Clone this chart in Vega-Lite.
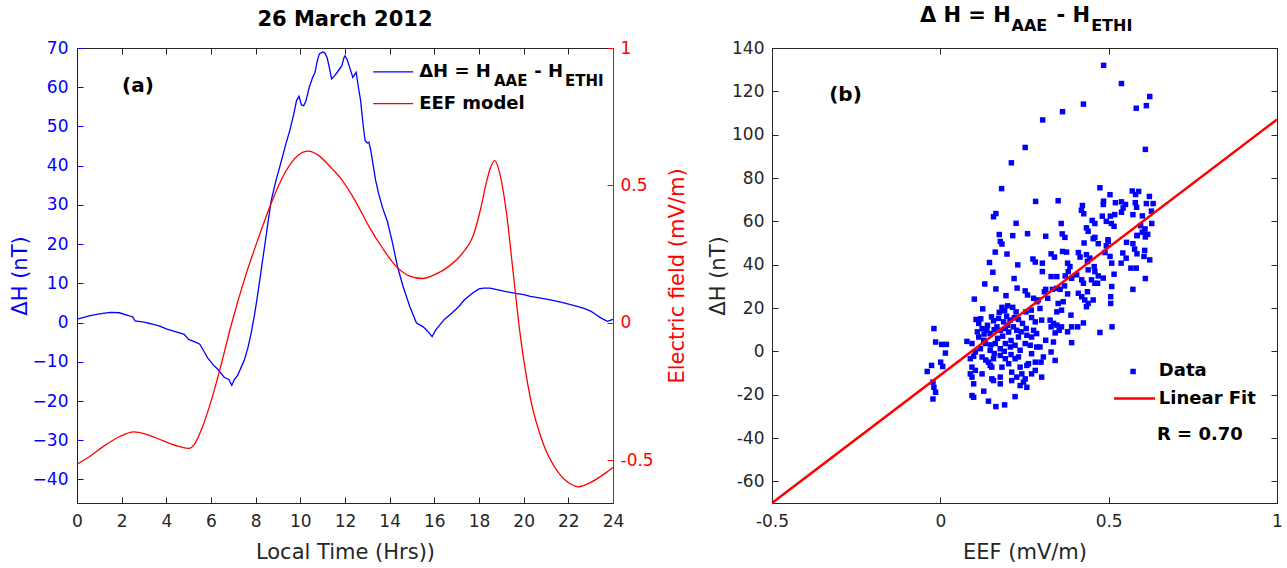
{
  "$schema": "https://vega.github.io/schema/vega-lite/v6.json",
  "padding": {"left": 8, "top": 4, "right": 5, "bottom": 2},
  "bounds": "flush",
  "spacing": 159,
  "datasets": {
    "dh": [
      {"t":0,"v":0.9},{"t":0.3,"v":1.3},{"t":0.6,"v":1.8},{"t":1.0,"v":2.2},{"t":1.5,"v":2.6},{"t":1.9,"v":2.5},{"t":2.3,"v":1.8},{"t":2.5,"v":1.4},{"t":2.6,"v":0.4},{"t":3.0,"v":0.1},{"t":3.3,"v":-0.3},{"t":3.7,"v":-0.9},{"t":4.0,"v":-1.6},{"t":4.4,"v":-2.3},{"t":4.8,"v":-3.0},{"t":5.0,"v":-4.3},{"t":5.3,"v":-5.0},{"t":5.5,"v":-5.5},{"t":5.7,"v":-7.5},{"t":5.85,"v":-9.0},{"t":6.1,"v":-10.8},{"t":6.3,"v":-11.9},{"t":6.6,"v":-14.0},{"t":6.8,"v":-14.5},{"t":6.93,"v":-16.0},{"t":7.05,"v":-14.5},{"t":7.2,"v":-13.4},{"t":7.5,"v":-9.4},{"t":7.65,"v":-6.5},{"t":7.8,"v":-2.6},{"t":7.95,"v":2.0},{"t":8.1,"v":7.5},{"t":8.25,"v":13.5},{"t":8.4,"v":19.4},{"t":8.55,"v":25.5},{"t":8.7,"v":31.2},{"t":8.9,"v":36},{"t":9.16,"v":41.4},{"t":9.35,"v":45.5},{"t":9.53,"v":49},{"t":9.7,"v":53},{"t":9.83,"v":56.6},{"t":9.94,"v":57.7},{"t":10.05,"v":55.5},{"t":10.15,"v":55.3},{"t":10.25,"v":56.5},{"t":10.4,"v":60},{"t":10.55,"v":62.5},{"t":10.66,"v":63.8},{"t":10.75,"v":66.5},{"t":10.85,"v":68.5},{"t":11.0,"v":69},{"t":11.1,"v":68.7},{"t":11.2,"v":67.5},{"t":11.3,"v":65},{"t":11.4,"v":62.1},{"t":11.55,"v":63},{"t":11.7,"v":64.2},{"t":11.86,"v":65.5},{"t":11.95,"v":67.5},{"t":12.0,"v":68},{"t":12.1,"v":67},{"t":12.24,"v":64.5},{"t":12.35,"v":62.5},{"t":12.5,"v":63.8},{"t":12.6,"v":60},{"t":12.7,"v":56.6},{"t":12.8,"v":51},{"t":12.9,"v":46.4},{"t":13.0,"v":45.8},{"t":13.07,"v":46},{"t":13.15,"v":44},{"t":13.37,"v":36.3},{"t":13.5,"v":33},{"t":13.67,"v":29.5},{"t":13.9,"v":25.7},{"t":14.1,"v":21},{"t":14.35,"v":14.3},{"t":14.6,"v":9.2},{"t":14.9,"v":4.1},{"t":15.2,"v":-0.1},{"t":15.5,"v":-1.1},{"t":15.7,"v":-2.2},{"t":15.9,"v":-3.6},{"t":16.05,"v":-2},{"t":16.2,"v":-0.9},{"t":16.45,"v":0.8},{"t":16.8,"v":2.5},{"t":17.1,"v":4.1},{"t":17.35,"v":5.8},{"t":17.7,"v":7.5},{"t":18.0,"v":8.6},{"t":18.2,"v":8.8},{"t":18.5,"v":8.8},{"t":18.8,"v":8.4},{"t":19.1,"v":8.0},{"t":19.4,"v":7.7},{"t":19.7,"v":7.4},{"t":20.0,"v":7.1},{"t":20.3,"v":6.7},{"t":20.7,"v":6.3},{"t":21.2,"v":5.8},{"t":21.8,"v":5.0},{"t":22.4,"v":4.1},{"t":22.7,"v":3.6},{"t":23.0,"v":2.9},{"t":23.2,"v":2.2},{"t":23.45,"v":1.2},{"t":23.75,"v":0.3},{"t":24.0,"v":0.8}
    ],
    "eef": [
      {"t":0,"e":-0.515},{"t":0.6,"e":-0.485},{"t":1.2,"e":-0.449},{"t":1.94,"e":-0.413},{"t":2.54,"e":-0.397},{"t":3.14,"e":-0.407},{"t":3.9,"e":-0.431},{"t":4.65,"e":-0.452},{"t":5.0,"e":-0.457},{"t":5.3,"e":-0.437},{"t":5.6,"e":-0.383},{"t":6.0,"e":-0.286},{"t":6.45,"e":-0.154},{"t":6.9,"e":-0.01},{"t":7.5,"e":0.159},{"t":8.1,"e":0.303},{"t":8.7,"e":0.436},{"t":9.3,"e":0.544},{"t":9.9,"e":0.61},{"t":10.36,"e":0.625},{"t":10.8,"e":0.61},{"t":11.4,"e":0.562},{"t":11.86,"e":0.52},{"t":12.47,"e":0.442},{"t":13.07,"e":0.351},{"t":13.67,"e":0.273},{"t":14.27,"e":0.207},{"t":14.87,"e":0.171},{"t":15.47,"e":0.161},{"t":16.07,"e":0.177},{"t":16.68,"e":0.207},{"t":17.28,"e":0.255},{"t":17.73,"e":0.315},{"t":18.1,"e":0.424},{"t":18.3,"e":0.5},{"t":18.48,"e":0.556},{"t":18.7,"e":0.59},{"t":18.93,"e":0.544},{"t":19.23,"e":0.4},{"t":19.53,"e":0.183},{"t":19.83,"e":-0.034},{"t":20.3,"e":-0.274},{"t":20.89,"e":-0.443},{"t":21.5,"e":-0.539},{"t":22.1,"e":-0.587},{"t":22.46,"e":-0.597},{"t":23.0,"e":-0.581},{"t":23.6,"e":-0.551},{"t":24,"e":-0.527}
    ],
    "scatter": [
      {"x":0.485,"y":132},{"x":0.538,"y":123.6},{"x":0.622,"y":117.6},{"x":0.582,"y":112.2},{"x":0.612,"y":113.4},{"x":0.425,"y":114.1},{"x":0.363,"y":110.6},{"x":0.304,"y":106.8},{"x":0.252,"y":94.1},{"x":0.211,"y":87},{"x":0.609,"y":93.2},{"x":0.182,"y":75.1},{"x":0.474,"y":75.5},{"x":0.283,"y":69.2},{"x":0.35,"y":69.5},{"x":0.165,"y":63.6},{"x":0.158,"y":62.1},{"x":0.225,"y":59.1},
      {"x":0.57,"y":74},{"x":0.589,"y":73.8},{"x":0.58,"y":72.4},{"x":0.504,"y":72.3},{"x":0.621,"y":71.5},{"x":0.485,"y":69.3},{"x":0.484,"y":67.8},{"x":0.52,"y":68.6},{"x":0.538,"y":69},{"x":0.55,"y":67.8},{"x":0.543,"y":66.2},{"x":0.579,"y":68.6},{"x":0.583,"y":66.5},{"x":0.612,"y":68.2},{"x":0.632,"y":68.2},{"x":0.422,"y":67.3},{"x":0.419,"y":65.1},{"x":0.426,"y":63.5},{"x":0.518,"y":63.1},{"x":0.505,"y":62.4},{"x":0.481,"y":62.4},{"x":0.538,"y":64.2},{"x":0.572,"y":63.1},{"x":0.627,"y":64.7},{"x":0.6,"y":62.5},{"x":0.595,"y":58},{"x":0.608,"y":56.5},{"x":0.6,"y":55},{"x":0.628,"y":59},{"x":0.493,"y":60},{"x":0.508,"y":59},{"x":0.516,"y":57.7},{"x":0.451,"y":60.4},{"x":0.459,"y":59},{"x":0.434,"y":57},{"x":0.439,"y":55.4},{"x":0.359,"y":59},{"x":0.313,"y":53.1},{"x":0.362,"y":54.2},{"x":0.37,"y":52.6},{"x":0.459,"y":52.6},{"x":0.498,"y":51.5},{"x":0.585,"y":53.5},{"x":0.616,"y":54},
      {"x":0.175,"y":53.9},{"x":0.178,"y":50.7},{"x":0.183,"y":49.5},{"x":0.215,"y":53.4},{"x":0.259,"y":54.3},{"x":0.163,"y":45.8},{"x":0.198,"y":44.9},{"x":0.146,"y":41},{"x":0.23,"y":39.9},{"x":0.275,"y":42.6},{"x":0.282,"y":41.2},{"x":0.156,"y":36.5},{"x":0.219,"y":33.6},{"x":0.132,"y":31.1},{"x":0.165,"y":28.8},{"x":0.228,"y":29.2},{"x":0.252,"y":27.9},{"x":0.259,"y":26},{"x":0.195,"y":25.7},{"x":0.101,"y":24.1},{"x":0.277,"y":24.5},{"x":0.287,"y":22.9},{"x":0.126,"y":19.6},{"x":0.183,"y":20.3},{"x":0.191,"y":18.7},{"x":0.215,"y":20.3},{"x":0.225,"y":18.2},{"x":0.254,"y":18.2},
      {"x":0.454,"y":52},{"x":0.469,"y":49.7},{"x":0.499,"y":50.7},{"x":0.493,"y":48.7},{"x":0.553,"y":50.3},{"x":0.572,"y":49.7},{"x":0.584,"y":53.4},{"x":0.609,"y":52.8},{"x":0.427,"y":50},{"x":0.329,"y":45},{"x":0.339,"y":43.5},{"x":0.363,"y":46.1},{"x":0.375,"y":45.8},{"x":0.41,"y":45.6},{"x":0.415,"y":43.5},{"x":0.434,"y":44.6},{"x":0.444,"y":43},{"x":0.437,"y":41.5},{"x":0.489,"y":45.6},{"x":0.504,"y":43.8},{"x":0.509,"y":40.7},{"x":0.542,"y":45.4},{"x":0.537,"y":40.7},{"x":0.552,"y":43},{"x":0.577,"y":47.2},{"x":0.584,"y":45},{"x":0.607,"y":46.6},{"x":0.605,"y":43.8},{"x":0.622,"y":42.2},{"x":0.566,"y":38.4},{"x":0.582,"y":38.4},{"x":0.609,"y":33.6},{"x":0.516,"y":35.6},{"x":0.572,"y":28.6},{"x":0.303,"y":40.7},{"x":0.303,"y":36.8},{"x":0.329,"y":34.5},{"x":0.346,"y":34.5},{"x":0.378,"y":40.7},{"x":0.385,"y":39.1},{"x":0.38,"y":36.8},{"x":0.371,"y":34.8},{"x":0.39,"y":33.7},{"x":0.405,"y":35.3},{"x":0.439,"y":37.6},{"x":0.457,"y":39.1},{"x":0.459,"y":36.8},{"x":0.469,"y":34.8},{"x":0.42,"y":33},{"x":0.425,"y":31.4},{"x":0.449,"y":33},{"x":0.459,"y":31.4},{"x":0.467,"y":31.4},{"x":0.484,"y":33.8},{"x":0.509,"y":29.9},{"x":0.313,"y":28.6},{"x":0.309,"y":27.5},{"x":0.333,"y":28.6},{"x":0.346,"y":29.1},{"x":0.356,"y":28.6},{"x":0.369,"y":30.2},{"x":0.319,"y":24.5},{"x":0.378,"y":26.5},{"x":0.41,"y":26.8},{"x":0.42,"y":25.2},{"x":0.437,"y":27.5},{"x":0.429,"y":23.7},{"x":0.434,"y":20.6},{"x":0.439,"y":22.1},{"x":0.454,"y":23.7},{"x":0.506,"y":25.2},{"x":0.506,"y":22.1},{"x":0.291,"y":23.7},{"x":0.296,"y":19.8},{"x":0.35,"y":22.1},{"x":0.365,"y":22.9},{"x":0.36,"y":19},{"x":0.346,"y":18.2},{"x":0.388,"y":16.7},
      {"x":0.152,"y":15.9},{"x":0.158,"y":14.1},{"x":0.173,"y":15.2},{"x":0.188,"y":13.6},{"x":0.197,"y":16.2},{"x":0.207,"y":14.4},{"x":0.232,"y":14.7},{"x":0.244,"y":12.9},{"x":0.271,"y":15.6},{"x":0.282,"y":13.6},{"x":0.106,"y":14.7},{"x":0.114,"y":12.9},
      {"x":0.124,"y":10.5},{"x":0.138,"y":9.7},{"x":0.148,"y":8.2},{"x":0.114,"y":6.6},{"x":0.129,"y":5.1},{"x":0.168,"y":11.3},{"x":0.178,"y":9.7},{"x":0.193,"y":10.5},{"x":0.203,"y":8.9},{"x":0.217,"y":11.3},{"x":0.227,"y":9.7},{"x":0.232,"y":6.6},{"x":0.257,"y":7.4},{"x":0.271,"y":6.6},{"x":0.277,"y":9.7},{"x":0.286,"y":8.2},
      {"x":0.094,"y":3.6},{"x":0.104,"y":-0.3},{"x":0.119,"y":1.2},{"x":0.134,"y":3.6},{"x":0.148,"y":0.5},{"x":0.163,"y":3.6},{"x":0.178,"y":1.2},{"x":0.193,"y":3.6},{"x":0.208,"y":2},{"x":0.222,"y":2.8},{"x":0.237,"y":0.5},{"x":0.252,"y":3.6},{"x":0.267,"y":2.8},{"x":0.286,"y":2},
      {"x":0.079,"y":4.6},{"x":-0.014,"y":4.3},{"x":0.004,"y":3.2},{"x":0.018,"y":3.2},{"x":0.015,"y":-0.8},{"x":-0.019,"y":10.5},
      {"x":0.089,"y":-3.4},{"x":0.099,"y":-2.3},{"x":0.124,"y":-2.6},{"x":0.143,"y":-5},{"x":0.158,"y":-3.4},{"x":0.178,"y":-1.9},{"x":0.193,"y":-3.4},{"x":0.222,"y":-3.4},{"x":0.232,"y":-2.6},{"x":0.271,"y":-1.1},
      {"x":0.094,"y":-7.3},{"x":0.104,"y":-8.8},{"x":0.148,"y":-6.5},{"x":0.153,"y":-7.3},{"x":0.183,"y":-7.3},{"x":0.203,"y":-5.7},{"x":0.237,"y":-7.3},{"x":0.257,"y":-6.5},{"x":0.262,"y":-5.7},{"x":0.282,"y":-5},
      {"x":0.089,"y":-10.4},{"x":0.094,"y":-11.9},{"x":0.124,"y":-10.4},{"x":0.153,"y":-12.7},{"x":0.178,"y":-11.9},{"x":0.212,"y":-9.6},{"x":0.227,"y":-11.9},{"x":0.242,"y":-10.4},{"x":0.252,"y":-12.7},{"x":0.271,"y":-10.4},{"x":0.282,"y":-8.8},
      {"x":0.099,"y":-15},{"x":0.129,"y":-18.4},{"x":0.158,"y":-13.5},{"x":0.178,"y":-15},{"x":0.212,"y":-13.5},{"x":0.237,"y":-15.8},{"x":0.247,"y":-14.2},{"x":0.257,"y":-16.6},
      {"x":0.094,"y":-20.4},{"x":0.143,"y":-23},{"x":0.165,"y":-25.5},{"x":0.191,"y":-24.7},{"x":0.222,"y":-20.9},{"x":0.099,"y":-21.2},
      {"x":-0.039,"y":-9.3},{"x":-0.026,"y":-6.5},{"x":0.001,"y":-5},{"x":0.007,"y":-7},{"x":-0.022,"y":-14.2},{"x":-0.019,"y":-16.6},{"x":-0.014,"y":-18.9},{"x":-0.022,"y":-22},
      {"x":0.301,"y":14.4},{"x":0.326,"y":14.4},{"x":0.329,"y":11.3},{"x":0.336,"y":12.9},{"x":0.341,"y":8.5},{"x":0.346,"y":12.1},{"x":0.353,"y":9.7},{"x":0.36,"y":11.3},{"x":0.378,"y":9},{"x":0.39,"y":11.3},{"x":0.408,"y":11.3},{"x":0.425,"y":13.1},{"x":0.474,"y":8.7},{"x":0.51,"y":11.3},{"x":0.313,"y":5.1},{"x":0.336,"y":4.3},{"x":0.39,"y":4},{"x":0.296,"y":2},{"x":0.329,"y":-0.3},{"x":0.306,"y":-2.6},{"x":0.299,"y":-5},{"x":0.341,"y":-4.2},{"x":0.301,"y":-11.9},
      {"x":0.14,"y":12},{"x":0.16,"y":10},{"x":0.185,"y":7},{"x":0.2,"y":12},{"x":0.17,"y":6},{"x":0.21,"y":5},{"x":0.13,"y":8},{"x":0.15,"y":3},{"x":0.19,"y":0},{"x":0.16,"y":-1},{"x":0.24,"y":9},{"x":0.22,"y":15.5},{"x":0.12,"y":15},{"x":0.175,"y":18},{"x":0.2,"y":21},{"x":0.135,"y":-4},{"x":0.21,"y":-1.5},{"x":0.255,"y":10.5},{"x":0.27,"y":19},{"x":0.11,"y":9}
    ],
    "fit": [{"x":-0.5,"y":-70},{"x":1,"y":107}]
  },
  "hconcat": [
    {
      "width": 536,
      "height": 455,
      "title": {"text": "26 March 2012", "fontSize": 21, "fontWeight": "bold", "color": "#000000", "font": "DejaVu Sans", "offset": 9, "anchor": "middle"},
      "layer": [
        {
          "layer": [
            {
              "data": {"name": "dh"},
              "mark": {"type": "line", "color": "#0000ff", "strokeWidth": 1.3},
              "encoding": {
                "x": {"field": "t", "type": "quantitative", "scale": {"domain": [0, 24], "nice": false, "zero": false},
                  "axis": {"title": "Local Time (Hrs))", "values": [0,2,4,6,8,10,12,14,16,18,20,22,24], "orient": "bottom", "domainColor": "#262626", "tickColor": "#262626", "labelColor": "#262626", "titleColor": "#262626", "tickSize": -6, "labelPadding": 16, "titlePadding": 12}},
                "y": {"field": "v", "type": "quantitative", "scale": {"domain": [-46, 70], "nice": false, "zero": false},
                  "axis": {"title": "ΔH (nT)", "values": [-40,-30,-20,-10,0,10,20,30,40,50,60,70], "orient": "left", "domainColor": "#0000ff", "tickColor": "#0000ff", "labelColor": "#0000ff", "titleColor": "#0000ff", "tickSize": -6, "labelPadding": 15, "titlePadding": 2}}
              }
            },
            {"data": {"values": [{}]}, "mark": {"type": "rule", "color": "#0000ff", "strokeWidth": 1.3},
             "encoding": {"x": {"datum": 13.26}, "x2": {"datum": 15.05}, "y": {"datum": 63.9}}},
            {"data": {"values": [{}]}, "mark": {"type": "rule", "color": "#ff0000", "strokeWidth": 1.3},
             "encoding": {"x": {"datum": 13.26}, "x2": {"datum": 15.05}, "y": {"datum": 55.8}}},
            {"data": {"values": [{}]}, "mark": {"type": "text", "text": "ΔH = H", "align": "left", "baseline": "middle", "fontSize": 18, "fontWeight": "bold", "color": "#000000"},
             "encoding": {"x": {"datum": 15.32}, "y": {"datum": 63.9}}},
            {"data": {"values": [{}]}, "mark": {"type": "text", "text": "AAE", "align": "left", "baseline": "middle", "fontSize": 15, "fontWeight": "bold", "color": "#000000"},
             "encoding": {"x": {"datum": 18.67}, "y": {"datum": 61.6}}},
            {"data": {"values": [{}]}, "mark": {"type": "text", "text": "- H", "align": "left", "baseline": "middle", "fontSize": 18, "fontWeight": "bold", "color": "#000000"},
             "encoding": {"x": {"datum": 20.47}, "y": {"datum": 63.9}}},
            {"data": {"values": [{}]}, "mark": {"type": "text", "text": "ETHI", "align": "left", "baseline": "middle", "fontSize": 15, "fontWeight": "bold", "color": "#000000"},
             "encoding": {"x": {"datum": 21.85}, "y": {"datum": 61.6}}},
            {"data": {"values": [{}]}, "mark": {"type": "text", "text": "EEF model", "align": "left", "baseline": "middle", "fontSize": 18, "fontWeight": "bold", "color": "#000000"},
             "encoding": {"x": {"datum": 15.32}, "y": {"datum": 55.8}}},
            {"data": {"values": [{}]}, "mark": {"type": "text", "text": "(a)", "align": "left", "baseline": "middle", "fontSize": 20, "fontWeight": "bold", "color": "#000000"},
             "encoding": {"x": {"datum": 2.02}, "y": {"datum": 60.4}}}
          ]
        },
        {
          "data": {"name": "eef"},
          "mark": {"type": "line", "color": "#ff0000", "strokeWidth": 1.3, "interpolate": "monotone"},
          "encoding": {
            "x": {"field": "t", "type": "quantitative", "scale": {"domain": [0, 24], "nice": false, "zero": false},
              "axis": {"orient": "top", "title": null, "labels": false, "domain": false, "values": [0,2,4,6,8,10,12,14,16,18,20,22,24], "tickColor": "#262626", "tickSize": -6}},
            "y": {"field": "e", "type": "quantitative", "scale": {"domain": [-0.656, 1], "nice": false, "zero": false},
              "axis": {"title": "Electric field (mV/m)", "orient": "right", "values": [-0.5, 0, 0.5, 1], "domainColor": "#ff0000", "tickColor": "#ff0000", "labelColor": "#ff0000", "titleColor": "#ff0000", "tickSize": -6, "labelPadding": 13, "titlePadding": 34, "titleAngle": 270, "labelExpr": "replace(format(datum.value, '~g'), '−', '-')"}}
          }
        }
      ],
      "resolve": {"scale": {"x": "independent", "y": "independent"}}
    },
    {
      "width": 505,
      "height": 455,
      "layer": [
        {
          "layer": [
            {
              "data": {"name": "scatter"},
              "mark": {"type": "point", "shape": "square", "filled": true, "size": 30, "color": "#0000ff", "opacity": 1},
              "encoding": {
                "x": {"field": "x", "type": "quantitative", "scale": {"domain": [-0.5, 1], "nice": false, "zero": false},
                  "axis": {"title": "EEF (mV/m)", "values": [-0.5, 0, 0.5, 1], "orient": "bottom", "domainColor": "#262626", "tickColor": "#262626", "labelColor": "#262626", "titleColor": "#262626", "tickSize": -6, "labelPadding": 16, "titlePadding": 12, "labelExpr": "replace(format(datum.value, '~g'), '−', '-')"}},
                "y": {"field": "y", "type": "quantitative", "scale": {"domain": [-70, 140], "nice": false, "zero": false},
                  "axis": {"title": "ΔH (nT)", "values": [-60,-40,-20,0,20,40,60,80,100,120,140], "orient": "left", "domainColor": "#262626", "tickColor": "#262626", "labelColor": "#262626", "titleColor": "#262626", "tickSize": -6, "labelPadding": 14, "titlePadding": 3, "labelExpr": "replace(format(datum.value, '~g'), '−', '-')"}}
              }
            },
            {
              "data": {"name": "fit"},
              "mark": {"type": "line", "color": "#ff0000", "strokeWidth": 2.5},
              "encoding": {"x": {"field": "x", "type": "quantitative"}, "y": {"field": "y", "type": "quantitative"}}
            },
            {"data": {"values": [{}]}, "mark": {"type": "point", "shape": "square", "filled": true, "size": 30, "color": "#0000ff", "opacity": 1},
             "encoding": {"x": {"datum": 0.5725}, "y": {"datum": -9.3}}},
            {"data": {"values": [{}]}, "mark": {"type": "rule", "color": "#ff0000", "strokeWidth": 2.5},
             "encoding": {"x": {"datum": 0.516}, "x2": {"datum": 0.6376}, "y": {"datum": -21.8}}},
            {"data": {"values": [{}]}, "mark": {"type": "text", "text": "Data", "align": "left", "baseline": "middle", "fontSize": 18, "fontWeight": "bold", "color": "#000000"},
             "encoding": {"x": {"datum": 0.649}, "y": {"datum": -9.3}}},
            {"data": {"values": [{}]}, "mark": {"type": "text", "text": "Linear Fit", "align": "left", "baseline": "middle", "fontSize": 18, "fontWeight": "bold", "color": "#000000"},
             "encoding": {"x": {"datum": 0.649}, "y": {"datum": -21.8}}},
            {"data": {"values": [{}]}, "mark": {"type": "text", "text": "R = 0.70", "align": "left", "baseline": "middle", "fontSize": 18, "fontWeight": "bold", "color": "#000000"},
             "encoding": {"x": {"datum": 0.6435}, "y": {"datum": -38.8}}},
            {"data": {"values": [{}]}, "mark": {"type": "text", "text": "(b)", "align": "left", "baseline": "middle", "fontSize": 20, "fontWeight": "bold", "color": "#000000"},
             "encoding": {"x": {"datum": -0.33}, "y": {"datum": 118.5}}},
            {"data": {"values": [{}]}, "mark": {"type": "text", "text": "Δ H = H", "align": "left", "baseline": "middle", "fontSize": 21, "fontWeight": "bold", "color": "#000000"},
             "encoding": {"x": {"datum": -0.0607}, "y": {"datum": 154.6}}},
            {"data": {"values": [{}]}, "mark": {"type": "text", "text": "AAE", "align": "left", "baseline": "middle", "fontSize": 16, "fontWeight": "bold", "color": "#000000"},
             "encoding": {"x": {"datum": 0.2115}, "y": {"datum": 150}}},
            {"data": {"values": [{}]}, "mark": {"type": "text", "text": "- H", "align": "left", "baseline": "middle", "fontSize": 21, "fontWeight": "bold", "color": "#000000"},
             "encoding": {"x": {"datum": 0.345}, "y": {"datum": 154.6}}},
            {"data": {"values": [{}]}, "mark": {"type": "text", "text": "ETHI", "align": "left", "baseline": "middle", "fontSize": 16, "fontWeight": "bold", "color": "#000000"},
             "encoding": {"x": {"datum": 0.448}, "y": {"datum": 150}}}
          ]
        },
        {
          "data": {"name": "fit"},
          "mark": {"type": "line", "opacity": 0},
          "encoding": {
            "x": {"field": "x", "type": "quantitative", "scale": {"domain": [-0.5, 1], "nice": false, "zero": false},
              "axis": {"orient": "top", "title": null, "labels": false, "domain": false, "values": [-0.5, 0, 0.5, 1], "tickColor": "#262626", "tickSize": -6}},
            "y": {"field": "y", "type": "quantitative", "scale": {"domain": [-70, 140], "nice": false, "zero": false},
              "axis": {"orient": "right", "title": null, "labels": false, "domain": false, "values": [-60,-40,-20,0,20,40,60,80,100,120,140], "tickColor": "#262626", "tickSize": -6}}
          }
        }
      ],
      "resolve": {"scale": {"x": "independent", "y": "independent"}}
    }
  ],
  "config": {
    "font": "DejaVu Sans",
    "view": {"stroke": "#262626", "strokeWidth": 1},
    "axis": {"grid": false, "labelFont": "DejaVu Sans", "titleFont": "DejaVu Sans", "labelFontSize": 17, "titleFontSize": 21, "titleFontWeight": "normal", "labelFlush": false, "labelOverlap": false, "domainWidth": 1, "tickWidth": 1}
  }
}
